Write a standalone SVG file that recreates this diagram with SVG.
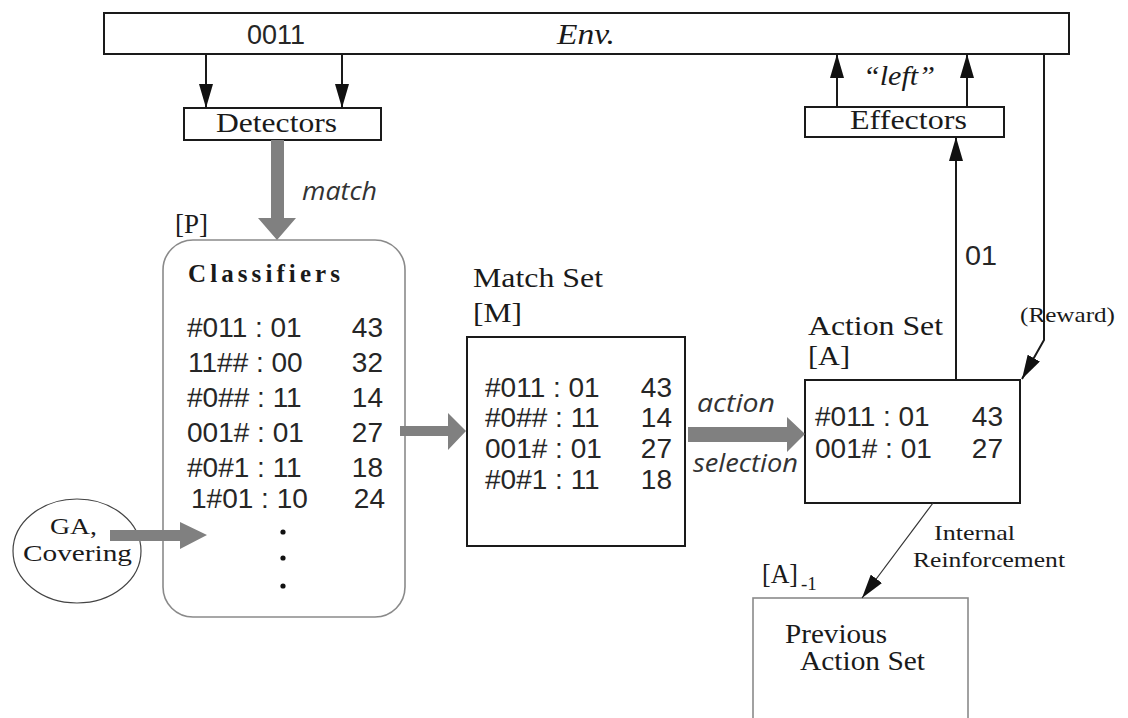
<svg xmlns="http://www.w3.org/2000/svg" width="1128" height="718" viewBox="0 0 1128 718">
  <defs>
    <style>
      .box { fill: #ffffff; stroke: #1a1a1a; stroke-width: 2; }
      .gbox { fill: #ffffff; stroke: #8a8a8a; stroke-width: 1.6; }
      .wire { fill: none; stroke: #1a1a1a; stroke-width: 2; }
      .thin { fill: none; stroke: #333333; stroke-width: 1.2; }
      .fat { fill: #808080; stroke: none; }
      .serif { font-family: "Liberation Serif", "Times New Roman", serif; fill: #1a1a1a; }
      .sans { font-family: "Liberation Sans", Arial, sans-serif; fill: #262626; font-size: 28px; }
      .ital { font-family: "Open Sans", "DejaVu Sans", sans-serif; font-style: italic; fill: #333333; font-size: 25px; }
      .num { text-anchor: end; }
    </style>
    <marker id="head" viewBox="0 0 24 14" markerWidth="24" markerHeight="14" refX="24" refY="7" orient="auto" markerUnits="userSpaceOnUse">
      <path d="M0,0 L24,7 L0,14 z" fill="#111111"/>
    </marker>
  </defs>

  <rect width="1128" height="718" fill="#ffffff"/>

  <!-- environment strip -->
  <g id="env">
    <rect class="box" x="104" y="13" width="965" height="41"/>
    <text class="sans" x="247" y="44" font-size="27" textLength="58" lengthAdjust="spacingAndGlyphs">0011</text>
    <text class="serif" x="557" y="44" font-size="30" font-style="italic" textLength="58" lengthAdjust="spacingAndGlyphs">Env.</text>
  </g>

  <g id="detectors">
    <rect class="box" x="184" y="108" width="197" height="32"/>
    <text class="serif" x="216" y="132" font-size="27" textLength="121" lengthAdjust="spacingAndGlyphs">Detectors</text>
  </g>

  <g id="effectors">
    <rect class="box" x="805" y="107" width="199" height="30"/>
    <text class="serif" x="850" y="129" font-size="27" textLength="117" lengthAdjust="spacingAndGlyphs">Effectors</text>
  </g>

  <g id="classifiers">
    <text class="serif" x="175" y="233" font-size="27" textLength="33" lengthAdjust="spacingAndGlyphs">[P]</text>
    <rect class="gbox" x="163" y="240" width="242" height="377" rx="30" ry="30"/>
    <text class="serif" x="188" y="282" font-size="25" font-weight="bold" textLength="152">Classifiers</text>
    <text class="sans" x="187" y="337">#011 : 01</text><text class="sans num" x="383" y="337">43</text>
    <text class="sans" x="188" y="372">11## : 00</text><text class="sans num" x="383" y="372">32</text>
    <text class="sans" x="187" y="407">#0## : 11</text><text class="sans num" x="383" y="407">14</text>
    <text class="sans" x="187" y="442">001# : 01</text><text class="sans num" x="383" y="442">27</text>
    <text class="sans" x="187" y="477">#0#1 : 11</text><text class="sans num" x="383" y="477">18</text>
    <text class="sans" x="191" y="508">1#01 : 10</text><text class="sans num" x="385" y="508">24</text>
    <circle cx="283" cy="532" r="2.6" fill="#111"/>
    <circle cx="283" cy="558" r="2.6" fill="#111"/>
    <circle cx="283" cy="586" r="2.6" fill="#111"/>
  </g>

  <g id="match-set">
    <text class="serif" x="473" y="287" font-size="27" textLength="130" lengthAdjust="spacingAndGlyphs">Match Set</text>
    <text class="serif" x="473" y="322" font-size="27" textLength="49" lengthAdjust="spacingAndGlyphs">[M]</text>
    <rect class="box" x="467" y="337" width="218" height="209"/>
    <text class="sans" x="485" y="397">#011 : 01</text><text class="sans num" x="672" y="397">43</text>
    <text class="sans" x="485" y="427">#0## : 11</text><text class="sans num" x="672" y="427">14</text>
    <text class="sans" x="485" y="458">001# : 01</text><text class="sans num" x="672" y="458">27</text>
    <text class="sans" x="485" y="489">#0#1 : 11</text><text class="sans num" x="672" y="489">18</text>
  </g>

  <g id="action-set">
    <text class="serif" x="808" y="335" font-size="27" textLength="135" lengthAdjust="spacingAndGlyphs">Action Set</text>
    <text class="serif" x="808" y="365" font-size="27" textLength="42" lengthAdjust="spacingAndGlyphs">[A]</text>
    <rect class="box" x="805" y="380" width="215" height="123"/>
    <text class="sans" x="815" y="426">#011 : 01</text><text class="sans num" x="1003" y="426">43</text>
    <text class="sans" x="815" y="458">001# : 01</text><text class="sans num" x="1003" y="458">27</text>
  </g>

  <g id="previous-action-set">
    <text class="serif" x="762" y="583" font-size="27" textLength="36" lengthAdjust="spacingAndGlyphs">[A]</text>
    <text class="serif" x="801" y="590" font-size="19">-1</text>
    <rect class="gbox" x="753" y="598" width="215" height="140"/>
    <text class="serif" x="785" y="643" font-size="27" textLength="102" lengthAdjust="spacingAndGlyphs">Previous</text>
    <text class="serif" x="800" y="670" font-size="27" textLength="125" lengthAdjust="spacingAndGlyphs">Action Set</text>
  </g>

  <g id="ga-covering">
    <ellipse cx="77" cy="551" rx="64" ry="52" fill="none" stroke="#444444" stroke-width="1.2"/>
    <text class="serif" x="50" y="534" font-size="24" textLength="47" lengthAdjust="spacingAndGlyphs">GA,</text>
    <text class="serif" x="23" y="561" font-size="24" textLength="109" lengthAdjust="spacingAndGlyphs">Covering</text>
  </g>

  <g id="connectors">
    <!-- environment to detectors -->
    <path class="wire" d="M206,54 V108" marker-end="url(#head)"/>
    <path class="wire" d="M342,54 V108" marker-end="url(#head)"/>
    <!-- effectors to environment -->
    <path class="wire" d="M837,107 V54" marker-end="url(#head)"/>
    <path class="wire" d="M967,107 V54" marker-end="url(#head)"/>
    <text class="serif" x="863" y="85" font-size="27" font-style="italic" textLength="72" lengthAdjust="spacingAndGlyphs">“left”</text>
    <!-- action set output to effectors -->
    <path class="wire" d="M956,380 V137" marker-end="url(#head)"/>
    <text class="sans" x="965" y="265" textLength="32" lengthAdjust="spacingAndGlyphs">01</text>
    <!-- reward from environment -->
    <text class="serif" x="1020" y="322" font-size="21" textLength="95" lengthAdjust="spacingAndGlyphs">(Reward)</text>
    <path class="wire" d="M1044,54 V340 L1022,379" marker-end="url(#head)"/>
    <!-- internal reinforcement -->
    <path class="thin" d="M933,503 L862,598" marker-end="url(#head)"/>
    <text class="serif" x="934" y="540" font-size="21" textLength="81" lengthAdjust="spacingAndGlyphs">Internal</text>
    <text class="serif" x="913" y="567" font-size="21" textLength="152" lengthAdjust="spacingAndGlyphs">Reinforcement</text>

    <!-- match: detectors to population -->
    <polygon class="fat" points="271,140 284,140 284,218 296,218 277,240 258,218 271,218"/>
    <text class="ital" x="302" y="200" textLength="75" lengthAdjust="spacingAndGlyphs">match</text>
    <!-- population to match set -->
    <polygon class="fat" points="400,426 448,426 448,413 466,431 448,450 448,436 400,436"/>
    <!-- action selection -->
    <polygon class="fat" points="688,427 787,427 787,417 805,434 787,452 787,442 688,442"/>
    <text class="ital" x="697" y="412" textLength="78" lengthAdjust="spacingAndGlyphs">action</text>
    <text class="ital" x="693" y="472" textLength="105" lengthAdjust="spacingAndGlyphs">selection</text>
    <!-- GA / covering into population -->
    <polygon class="fat" points="110,530 180,530 180,522 207,535 180,549 180,541 110,541"/>
  </g>
</svg>
